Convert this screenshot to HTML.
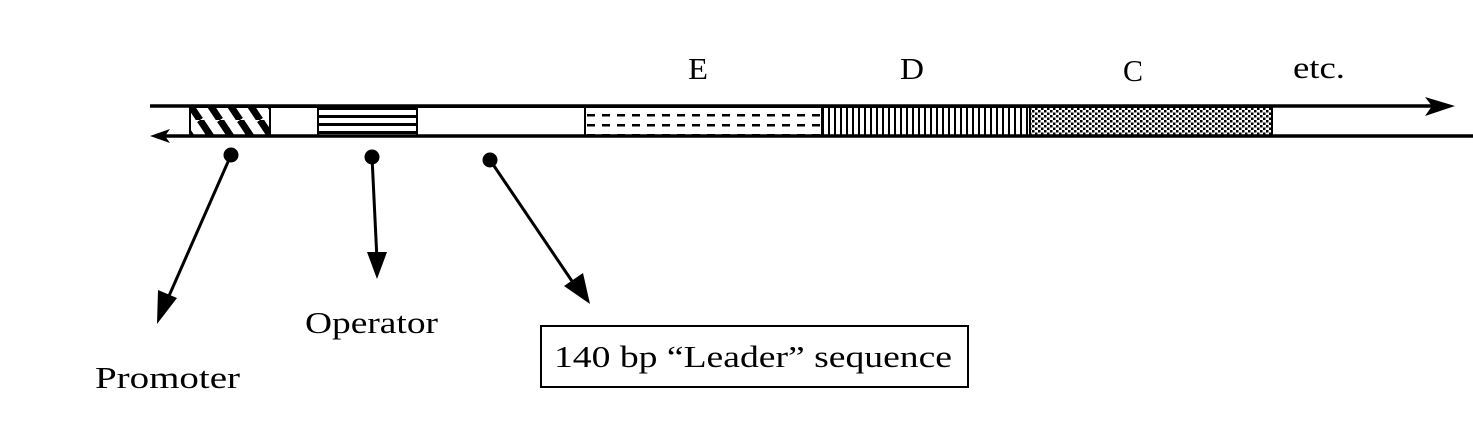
<!DOCTYPE html>
<html><head><meta charset="utf-8"><style>html,body{margin:0;padding:0;background:#fff}</style></head>
<body>
<svg width="1473" height="429" viewBox="0 0 1473 429" xmlns="http://www.w3.org/2000/svg" font-family="Liberation Serif, serif" font-size="31">
<defs>
<pattern id="diag" width="20" height="30" patternUnits="userSpaceOnUse"><path d="M0,0 L20,30 M-20,0 L0,30 M20,0 L40,30" stroke="#000" stroke-width="7"/></pattern>
<pattern id="hor" width="10" height="8" patternUnits="userSpaceOnUse"><rect x="0" y="3" width="10" height="3" fill="#000"/></pattern>
<pattern id="dash" width="15" height="10" patternUnits="userSpaceOnUse"><rect x="2" y="4" width="8" height="2.5" fill="#000"/></pattern>
<pattern id="vert" width="6" height="10" patternUnits="userSpaceOnUse"><rect x="0" y="0" width="2" height="10" fill="#000"/></pattern>
<pattern id="dots" width="6" height="5" patternUnits="userSpaceOnUse"><rect x="0" y="0" width="2.5" height="2.5" fill="#000"/><rect x="3" y="2.5" width="2.5" height="2.5" fill="#000"/></pattern>
</defs>
<rect x="190" y="107" width="80" height="29" fill="url(#diag)" stroke="#000" stroke-width="2"/>
<rect x="270" y="107" width="48" height="29" fill="#fff" stroke="#000" stroke-width="2"/>
<rect x="318" y="107" width="99" height="29" fill="url(#hor)" stroke="#000" stroke-width="2"/>
<rect x="417" y="107" width="168" height="29" fill="#fff" stroke="#000" stroke-width="2"/>
<rect x="585" y="107" width="237" height="29" fill="url(#dash)" stroke="#000" stroke-width="2"/>
<rect x="822" y="107" width="208" height="29" fill="url(#vert)" stroke="#000" stroke-width="2"/>
<rect x="1030" y="107" width="242" height="29" fill="url(#dots)" stroke="#000" stroke-width="2"/>
<line x1="150" y1="106" x2="1445" y2="106" stroke="#000" stroke-width="3.5"/>
<polygon points="1455,106 1425,97 1432,106 1425,116" fill="#000"/>
<line x1="160" y1="136" x2="1473" y2="136" stroke="#000" stroke-width="3.5"/>
<polygon points="150,136 170,129 165,136 170,143" fill="#000"/>
<circle cx="231" cy="155" r="7.5" fill="#000"/>
<circle cx="372" cy="157" r="7.5" fill="#000"/>
<circle cx="490" cy="160" r="7.5" fill="#000"/>
<line x1="231" y1="155" x2="165" y2="305" stroke="#000" stroke-width="3"/>
<polygon points="157,324 158,290 177,298" fill="#000"/>
<line x1="372" y1="157" x2="377" y2="260" stroke="#000" stroke-width="3"/>
<polygon points="377,279 367,252 387,252" fill="#000"/>
<line x1="490" y1="160" x2="578" y2="290" stroke="#000" stroke-width="3"/>
<polygon points="590,304 564,286 583,273" fill="#000"/>
<rect x="541" y="326" width="427" height="61" fill="none" stroke="#000" stroke-width="2"/>
<text x="554" y="367" textLength="398" lengthAdjust="spacingAndGlyphs">140 bp “Leader” sequence</text>
<text x="95" y="388" textLength="145" lengthAdjust="spacingAndGlyphs">Promoter</text>
<text x="305" y="333" textLength="133" lengthAdjust="spacingAndGlyphs">Operator</text>
<text x="688" y="79" textLength="20" lengthAdjust="spacingAndGlyphs">E</text>
<text x="900" y="79" textLength="24" lengthAdjust="spacingAndGlyphs">D</text>
<text x="1123" y="81" textLength="20" lengthAdjust="spacingAndGlyphs">C</text>
<text x="1293" y="78" textLength="52" lengthAdjust="spacingAndGlyphs">etc.</text>
</svg>
</body></html>
